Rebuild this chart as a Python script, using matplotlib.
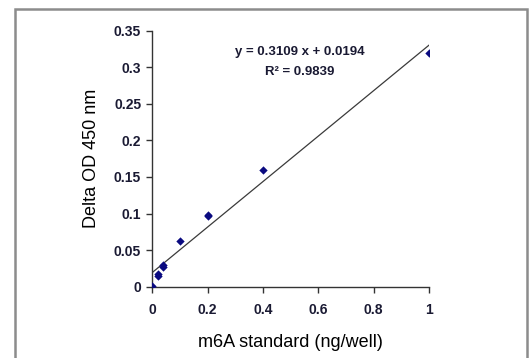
import numpy as np
import matplotlib
matplotlib.use('Agg')
import matplotlib.pyplot as plt
from matplotlib.patches import Rectangle

# m6A standard curve data
conc = [0, 0.02, 0.02, 0.04, 0.04, 0.1, 0.2, 0.2, 0.4, 1.0]
delta_od = [0.001, 0.017, 0.015, 0.030, 0.027, 0.063, 0.096, 0.098, 0.159, 0.319]

# linear fit shown on the chart
slope = 0.3109
intercept = 0.0194
r_squared = 0.9839

x_ticks = [0, 0.2, 0.4, 0.6, 0.8, 1]
x_labels = ['0', '0.2', '0.4', '0.6', '0.8', '1']
y_ticks = [0, 0.05, 0.1, 0.15, 0.2, 0.25, 0.3, 0.35]
y_labels = ['0', '0.05', '0.1', '0.15', '0.2', '0.25', '0.3', '0.35']

plt.rcParams['font.family'] = ['Liberation Sans', 'DejaVu Sans']

fig = plt.figure(figsize=(5.31, 3.58), dpi=100)
ax = fig.add_axes([0.2868, 0.1992, 0.8080 - 0.2868, 0.9142 - 0.1992])

# outer gray frame
fig.patches.append(Rectangle((14.5 / 531, -0.1), (527 - 14.5) / 531, 1.1 - 9 / 358,
                             transform=fig.transFigure, fill=False,
                             edgecolor='#8c8c8c', linewidth=1.8))

fit_x = np.array([0, 1])
ax.plot(fit_x, slope * fit_x + intercept, color='#3a3a3a', linewidth=0.9, zorder=2)
ax.scatter(conc, delta_od, marker='D', s=18, color='#0a0a80', zorder=3, linewidths=0)

ax.set_xlim(0, 1)
ax.set_ylim(0, 0.35)
ax.set_xticks(x_ticks)
ax.set_xticklabels(x_labels)
ax.set_yticks(y_ticks)
ax.set_yticklabels(y_labels)

for s in ['top', 'right']:
    ax.spines[s].set_visible(False)
for s in ['left', 'bottom']:
    ax.spines[s].set_color('#333333')
    ax.spines[s].set_linewidth(1.0)

ax.tick_params(axis='both', direction='out', length=4, width=1.0, color='#333333',
               labelsize=10, labelcolor='#1a1a33')
ax.tick_params(axis='x', pad=8)
ax.tick_params(axis='y', pad=4)
for lab in ax.get_xticklabels() + ax.get_yticklabels():
    lab.set_fontweight('bold')

ax.set_xlabel('m6A standard (ng/well)', fontsize=13, labelpad=12)
ax.set_ylabel('Delta OD 450 nm', fontsize=13, labelpad=10)

ax.text(0.533, 0.321, f'y = {slope:.4f} x + {intercept:.4f}', ha='center', va='center',
        fontsize=9.5, fontweight='bold', color='#1a1a33')
ax.text(0.533, 0.294, f'R\u00b2 = {r_squared:.4f}', ha='center', va='center',
        fontsize=9.5, fontweight='bold', color='#1a1a33')

fig.savefig('out.png', dpi=100)
